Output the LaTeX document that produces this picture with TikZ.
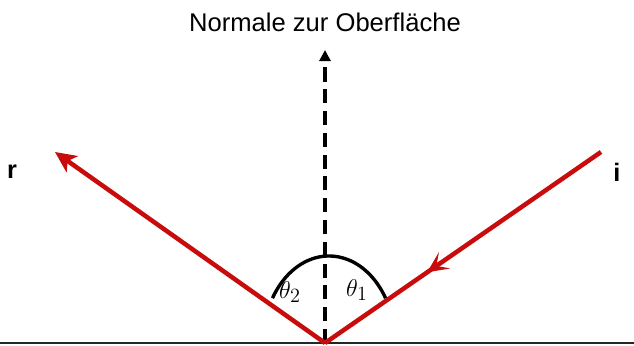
\documentclass[tikz,border=0pt]{standalone}
\usepackage{fontspec}
\setmainfont{Liberation Sans}
\usepackage{amsmath}
\usepackage{xcolor}
\usetikzlibrary{arrows.meta, positioning, calc, decorations.markings}
\definecolor{rayred}{RGB}{200,12,12}

\begin{document}
\begin{tikzpicture}[
		ray/.style={rayred, line width=3.2pt},
		midarrow/.style={postaction={decorate}, decoration={markings,
				mark=at position 0.63 with {\arrow{Stealth[length=15pt,width=14pt,inset=7pt]}}}},
		lbl/.style={font=\fontsize{18}{21}\selectfont\bfseries}
	]
		\useasboundingbox (0,0) rectangle (15.85,8.625);
		
		% Surface and points
		\coordinate (O) at (8.125,0.05);
		\coordinate (Istart) at (15.025,4.825);
		\coordinate (Rend) at (1.375,4.825);
		\coordinate (Ntop) at (8.125,7.375);
		\draw[line width=1.3pt, black!85] (0,0.05) -- (15.85,0.05);
		
		% Normal
		\node[font=\fontsize{18.2}{21}\selectfont] (normal) at (8.125,8.075) {Normale zur Oberfläche};
		\draw[line width=2.6pt, dash pattern=on 10pt off 5.5pt, -{Triangle[length=8pt,width=8pt]}] (O) -- (Ntop);
		
		% Incident and reflected rays
		\draw[ray, midarrow] (Istart) -- (O);
		\draw[ray, -{Stealth[length=15pt,width=14pt,inset=4pt]}] (O) -- (Rend);
		\node[lbl] (i) at (15.425,4.325) {i};
		\node[lbl] (r) at (0.3,4.325) {r};
		
		% Angles
		\draw[line width=2.4pt] ($(O)+(0.1,0)$) ++(31:1.65 and 2.175) arc[start angle=31, end angle=149, x radius=1.65, y radius=2.175];
		\node[font=\fontsize{19}{22}\selectfont] (theta2) at (7.25,1.325) {$\theta_2$};
		\node[font=\fontsize{19}{22}\selectfont] (theta1) at (8.925,1.375) {$\theta_1$};
	\end{tikzpicture}
\end{document}
